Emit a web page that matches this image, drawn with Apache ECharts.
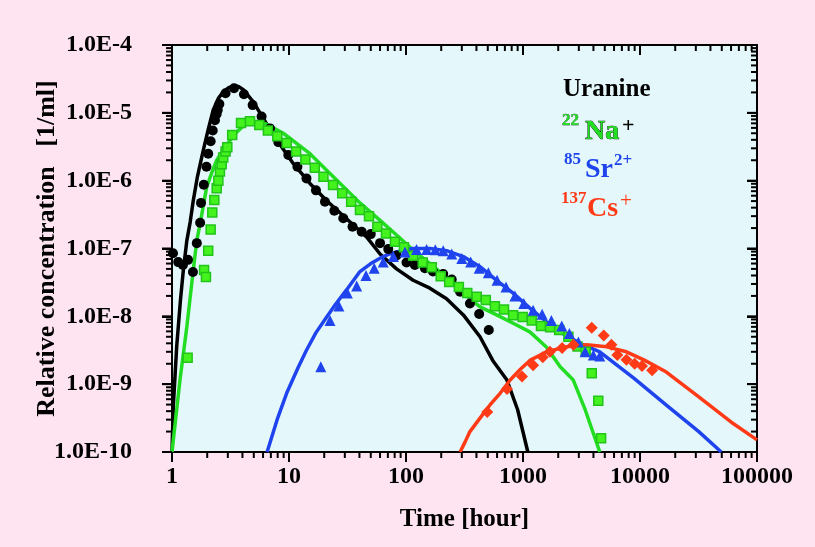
<!DOCTYPE html>
<html>
<head>
<meta charset="utf-8">
<script src="https://cdn.jsdelivr.net/npm/echarts@6/dist/echarts.min.js"></script>
<style>
  html, body { margin: 0; padding: 0; background: #fde4f0; }
  #chart { width: 815px; height: 547px; }
</style>
</head>
<body>
<div id="chart"></div>
<script>
// axis ranges
const xRange = [1, 100000];
const yRange = [1e-10, 1e-4];

// measured points (time in hours, relative concentration)
const uranineT = [1.02, 1.13, 1.24, 1.37, 1.51, 1.63, 1.74, 1.77, 1.87, 1.97, 2.04, 2.14, 2.23, 2.33, 2.41, 2.46, 2.54, 2.87, 3.39, 4.12, 4.89, 5.83, 6.88, 8.10, 9.87, 11.8, 14.1, 17.0, 20.3, 24.4, 29.1, 34.9, 41.8, 50, 60, 70.5, 83, 101, 119, 145, 170, 208, 246, 290, 352, 422, 510];
const uranineC = [8.5e-8, 6.3e-8, 5.7e-8, 6.8e-8, 4.5e-8, 1.2e-7, 2.4e-7, 4.7e-7, 8.7e-7, 1.6e-6, 2.5e-6, 3.8e-6, 5.5e-6, 7.8e-6, 9.6e-6, 1.1e-5, 1.35e-5, 1.94e-5, 2.3e-5, 1.88e-5, 1.3e-5, 8.8e-6, 5.9e-6, 3.7e-6, 2.4e-6, 1.6e-6, 1.08e-6, 7.2e-7, 4.9e-7, 3.6e-7, 2.8e-7, 2.1e-7, 1.77e-7, 1.63e-7, 1.2e-7, 9.8e-8, 7.9e-8, 6.2e-8, 5.7e-8, 5.1e-8, 4.6e-8, 4.2e-8, 3.5e-8, 2.3e-8, 1.55e-8, 1.08e-8, 6.3e-9];

const naT = [1.36, 1.88, 1.95, 2.04, 2.14, 2.21, 2.30, 2.41, 2.49, 2.57, 2.66, 2.74, 2.87, 2.97, 3.27, 3.89, 4.64, 5.57, 6.6, 7.94, 9.56, 11.5, 13.8, 16.6, 19.7, 23.8, 28.5, 34.0, 40.4, 48.3, 56.9, 67.4, 80.5, 96, 115, 139, 166, 198, 234, 283, 334, 402, 481, 575, 688, 823, 994, 1189, 1424, 1706, 2039, 2443, 2925, 3436, 3870, 4400, 4650];
const naC = [2.45e-9, 4.8e-8, 3.8e-8, 9.3e-8, 1.9e-7, 3.4e-7, 5.2e-7, 7.7e-7, 1.0e-6, 1.36e-6, 1.75e-6, 2.2e-6, 2.7e-6, 3.1e-6, 4.7e-6, 7.1e-6, 7.5e-6, 6.6e-6, 5.5e-6, 4.5e-6, 3.6e-6, 2.7e-6, 2.06e-6, 1.55e-6, 1.14e-6, 8.6e-7, 6.5e-7, 4.9e-7, 3.7e-7, 3.0e-7, 2.1e-7, 1.66e-7, 1.26e-7, 1.04e-7, 7.8e-8, 6.2e-8, 5.3e-8, 3.9e-8, 3.2e-8, 2.7e-8, 2.2e-8, 1.95e-8, 1.74e-8, 1.41e-8, 1.26e-8, 1.04e-8, 9.8e-9, 8.7e-9, 7.2e-9, 6.9e-9, 6.3e-9, 5.0e-9, 3.6e-9, 3.0e-9, 1.45e-9, 5.7e-10, 1.6e-10];

const srT = [18.7, 22.4, 26.7, 31.5, 37.9, 45.5, 53.5, 63.9, 78, 98, 123, 150, 178, 208, 246, 300, 357, 422, 506, 600, 716, 853, 1016, 1220, 1457, 1748, 2144, 2490, 2974, 3396, 3990, 4530];
const srC = [1.8e-9, 8.7e-9, 1.42e-8, 2.2e-8, 2.8e-8, 4.0e-8, 5.1e-8, 6.3e-8, 7.6e-8, 8.9e-8, 9.7e-8, 9.7e-8, 9.6e-8, 9.3e-8, 8.3e-8, 7.1e-8, 6.3e-8, 5.1e-8, 4.4e-8, 3.4e-8, 2.7e-8, 2.0e-8, 1.55e-8, 1.23e-8, 1.07e-8, 8.7e-9, 7.2e-9, 5.6e-9, 4.2e-9, 3.0e-9, 2.7e-9, 2.6e-9];

const csT = [495, 730, 980, 1220, 1475, 1700, 2160, 2700, 3870, 4900, 5700, 6400, 7660, 9000, 10400, 12700];
const csC = [3.9e-10, 8.5e-10, 1.3e-9, 1.9e-9, 2.5e-9, 3.0e-9, 3.4e-9, 3.8e-9, 6.8e-9, 5.2e-9, 3.8e-9, 2.7e-9, 2.3e-9, 2.0e-9, 1.85e-9, 1.6e-9];

// model curves
const uranineFitT = [1.0, 1.026, 1.097, 1.18, 1.25, 1.34, 1.43, 1.52, 1.65, 1.85, 2.05, 2.25, 2.5, 2.74, 3.05, 3.39, 3.7, 4.07, 4.95, 6.03, 7.85, 10.9, 15.1, 20.9, 31, 46, 60, 83, 115, 160, 222, 309, 429, 551, 729, 900, 1100];
const uranineFitC = [1e-10, 4.7e-10, 3.6e-9, 1.7e-8, 4.8e-8, 1.32e-7, 2.45e-7, 5.1e-7, 1.15e-6, 2.8e-6, 5.9e-6, 1.1e-5, 1.65e-5, 2.04e-5, 2.35e-5, 2.5e-5, 2.45e-5, 2.2e-5, 1.45e-5, 8.3e-6, 4.0e-6, 1.78e-6, 9.1e-7, 5.1e-7, 2.75e-7, 1.48e-7, 8.3e-8, 5.0e-8, 3.4e-8, 2.6e-8, 1.82e-8, 1.05e-8, 5.0e-9, 2.24e-9, 1.15e-9, 4.2e-10, 1e-10];

const naFitT = [1.0, 1.17, 1.34, 1.52, 1.63, 1.74, 1.98, 2.2, 2.41, 2.93, 3.57, 4.35, 5.30, 6.45, 8.93, 15.1, 25.5, 40.4, 60, 83, 115, 160, 222, 309, 429, 595, 823, 1145, 1590, 2070, 2690, 3400, 4530];
const naFitC = [1e-10, 1.15e-9, 7.1e-9, 4.8e-8, 1.32e-7, 2.34e-7, 8.1e-7, 1.35e-6, 2.0e-6, 3.4e-6, 5.2e-6, 7.1e-6, 7.4e-6, 6.8e-6, 5.0e-6, 2.5e-6, 1.02e-6, 4.7e-7, 2.6e-7, 1.58e-7, 9.5e-8, 6.0e-8, 3.8e-8, 2.2e-8, 1.38e-8, 1.05e-8, 7.9e-9, 5.9e-9, 3.5e-9, 1.82e-9, 1.15e-9, 4.2e-10, 1e-10];

const srFitT = [6.5, 8, 9.56, 12, 14.1, 17, 21, 25, 31, 40.4, 50, 60, 70, 83, 115, 160, 222, 309, 429, 595, 823, 1145, 1590, 2210, 3070, 4530, 8850, 16800, 31800, 49500];
const srFitC = [1e-10, 3.16e-10, 7.4e-10, 1.78e-9, 3.16e-9, 5.75e-9, 9.8e-9, 1.51e-8, 2.45e-8, 4.57e-8, 6.0e-8, 7.2e-8, 8.1e-8, 8.9e-8, 1.0e-7, 1.0e-7, 9.3e-8, 7.6e-8, 5.4e-8, 3.4e-8, 2.2e-8, 1.32e-8, 8.3e-9, 5.5e-9, 4.0e-9, 3.0e-9, 1.23e-9, 4.9e-10, 2.0e-10, 1e-10];

const csFitT = [290, 320, 352, 429, 520, 640, 777, 950, 1145, 1590, 2350, 3500, 5200, 7660, 11000, 16800, 31800, 60300, 100000];
const csFitC = [1e-10, 1.41e-10, 2.0e-10, 3.16e-10, 4.9e-10, 7.4e-10, 1.15e-9, 1.66e-9, 2.24e-9, 3.0e-9, 3.55e-9, 3.8e-9, 3.55e-9, 3.0e-9, 2.24e-9, 1.51e-9, 6.5e-10, 2.75e-10, 1.51e-10];

const BLACK = '#000000';
const GREEN = '#22dd22';
const BLUE = '#1f44ee';
const RED = '#ff3a16';
const FONT = '"Liberation Serif", "Times New Roman", serif';

function pairs(xs, ys) {
  return xs.map((x, i) => [x, ys[i]]);
}

// decade (major) or 2..9 (minor) positions of a log axis
function logTicks(range, major) {
  const out = [];
  const e0 = Math.round(Math.log10(range[0]));
  const e1 = Math.round(Math.log10(range[1]));
  for (let e = e0; e <= e1; e++) {
    if (major) { out.push(Math.pow(10, e)); continue; }
    if (e === e1) break;
    for (let m = 2; m <= 9; m++) out.push(m * Math.pow(10, e));
  }
  return out;
}

function lineSeries(name, xs, ys, color) {
  return {
    name, type: 'line', data: pairs(xs, ys),
    showSymbol: false, smooth: false,
    lineStyle: { color, width: 3.5 }, z: 2, silent: true,
  };
}

function scatterSeries(name, xs, ys, symbol, size, color, border) {
  return {
    name, type: 'scatter', data: pairs(xs, ys), symbol, symbolSize: size,
    itemStyle: { color, opacity: 1, borderColor: border || color, borderWidth: border ? 1.5 : 0 },
    z: 3, silent: true,
  };
}

// edge values nudged a hair inside the axis range
const xLo = xRange[0] * 1.0005, xHi = xRange[1] / 1.0005;
const yLo = yRange[0] * 1.0005, yHi = yRange[1] / 1.0005;
const clampX = (v) => Math.min(Math.max(v, xLo), xHi);
const clampY = (v) => Math.min(Math.max(v, yLo), yHi);

// tick marks as thin rect symbols; left/bottom point out, top/right point in
function tickSeries(points, vertical, len) {
  return {
    type: 'scatter', silent: true, clip: false, z: 10, symbol: 'rect',
    symbolSize: vertical ? [2, len] : [len, 2],
    symbolOffset: vertical ? [0, len / 2] : [-len / 2, 0],
    itemStyle: { color: BLACK, opacity: 1 },
    data: points,
  };
}

const ticks = [];
[true, false].forEach((major) => {
  const len = major ? 10 : 6;
  const xs = logTicks(xRange, major).map(clampX);
  const ys = logTicks(yRange, major).map(clampY);
  ticks.push(tickSeries(xs.map((v) => [v, yLo]), true, len));
  ticks.push(tickSeries(xs.map((v) => [v, yHi]), true, len));
  ticks.push(tickSeries(ys.map((v) => [xLo, v]), false, len));
  ticks.push(tickSeries(ys.map((v) => [xHi, v]), false, len));
});

const axisLine = { show: true, lineStyle: { color: BLACK, width: 2 } };
const majorOut = { show: true, inside: false, length: 10, lineStyle: { color: BLACK, width: 2 } };
const majorIn = { show: true, inside: true, length: 10, lineStyle: { color: BLACK, width: 2 } };

const chart = echarts.init(document.getElementById('chart'));

chart.setOption({
  backgroundColor: '#fde4f0',
  animation: false,
  grid: {
    left: 172, right: 58, top: 45, bottom: 95,
    show: true, backgroundColor: '#e4f8fc', borderWidth: 0,
  },
  xAxis: [
    {
      type: 'log', logBase: 10, min: xRange[0], max: xRange[1],
      name: 'Time [hour]', nameLocation: 'middle', nameGap: 55,
      nameTextStyle: { fontFamily: FONT, fontWeight: 'bold', fontSize: 25, color: BLACK },
      axisLine,
      axisTick: majorOut,
      axisLabel: {
        margin: 13, color: BLACK, fontFamily: FONT, fontWeight: 'bold', fontSize: 24,
        formatter: (v) => String(Math.round(v)),
      },
      splitLine: { show: false },
    },
    {
      type: 'log', logBase: 10, min: xRange[0], max: xRange[1], position: 'top',
      axisLine, axisTick: majorIn, axisLabel: { show: false }, splitLine: { show: false },
    },
  ],
  yAxis: [
    {
      type: 'log', logBase: 10, min: yRange[0], max: yRange[1],
      name: 'Relative concentration   [1/ml]', nameLocation: 'middle', nameGap: 112,
      nameMoveOverlap: false,
      nameTextStyle: { fontFamily: FONT, fontWeight: 'bold', fontSize: 26, color: BLACK },
      axisLine,
      axisTick: majorOut,
      axisLabel: {
        margin: 40, color: BLACK, fontFamily: FONT, fontWeight: 'bold', fontSize: 24,
        formatter: (v) => '1.0E' + Math.round(Math.log10(v)),
      },
      splitLine: { show: false },
    },
    {
      type: 'log', logBase: 10, min: yRange[0], max: yRange[1], position: 'right',
      axisLine, axisTick: majorIn, axisLabel: { show: false }, splitLine: { show: false },
    },
  ],
  series: [
    lineSeries('uranineFit', uranineFitT, uranineFitC, BLACK),
    lineSeries('naFit', naFitT, naFitC, GREEN),
    lineSeries('srFit', srFitT, srFitC, BLUE),
    lineSeries('csFit', csFitT, csFitC, RED),
    scatterSeries('Uranine', uranineT, uranineC, 'circle', 10, BLACK),
    scatterSeries('Na', naT, naC, 'rect', 9, '#44f21e', '#22c41a'),
    scatterSeries('Sr', srT, srC, 'triangle', 11, BLUE),
    scatterSeries('Cs', csT, csC, 'diamond', 12, RED),
  ].concat(ticks),
  graphic: [
    { type: 'text', x: 563, y: 89.5, style: { text: 'Uranine', font: 'bold 25px ' + FONT, fill: BLACK, verticalAlign: 'middle' } },
    { type: 'text', x: 562, y: 121, style: { text: '22', font: 'bold 17px ' + FONT, fill: GREEN, stroke: BLACK, lineWidth: 0.4, verticalAlign: 'middle' } },
    { type: 'text', x: 585, y: 132, style: { text: 'Na', font: 'bold 28px ' + FONT, fill: GREEN, stroke: BLACK, lineWidth: 0.7, verticalAlign: 'middle' } },
    { type: 'text', x: 622, y: 126, style: { text: '+', font: 'bold 22px ' + FONT, fill: BLACK, verticalAlign: 'middle' } },
    { type: 'text', x: 564, y: 159.5, style: { text: '85', font: 'bold 17px ' + FONT, fill: BLUE, verticalAlign: 'middle' } },
    { type: 'text', x: 585, y: 170, style: { text: 'Sr', font: 'bold 28px ' + FONT, fill: BLUE, verticalAlign: 'middle' } },
    { type: 'text', x: 614, y: 160.5, style: { text: '2+', font: 'bold 17px ' + FONT, fill: BLUE, verticalAlign: 'middle' } },
    { type: 'text', x: 561, y: 198.5, style: { text: '137', font: 'bold 17px ' + FONT, fill: RED, verticalAlign: 'middle' } },
    { type: 'text', x: 587, y: 209, style: { text: 'Cs', font: 'bold 28px ' + FONT, fill: RED, verticalAlign: 'middle' } },
    { type: 'text', x: 620, y: 201.5, style: { text: '+', font: '21px ' + FONT, fill: RED, verticalAlign: 'middle' } },
  ],
});
</script>
</body>
</html>
